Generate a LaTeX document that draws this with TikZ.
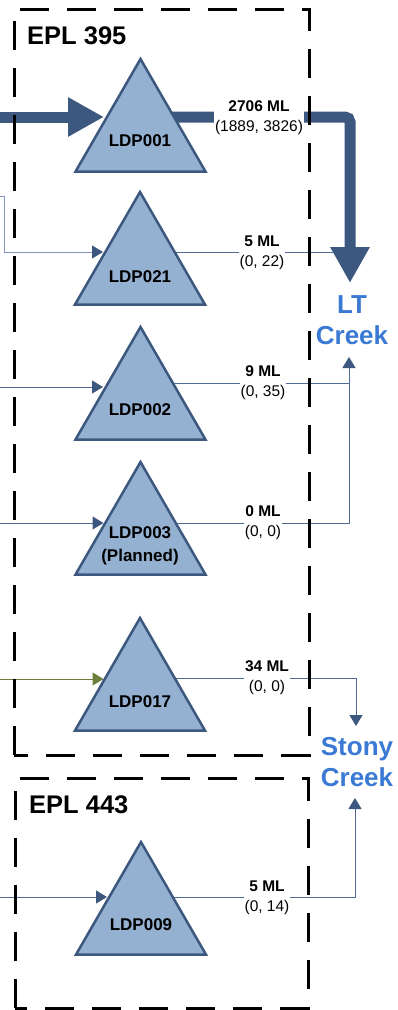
\documentclass[tikz,border=0pt]{standalone}
\usepackage{fontspec}
\setmainfont{Liberation Sans}
\usetikzlibrary{shapes.geometric,arrows.meta,backgrounds}
\definecolor{trifill}{RGB}{149,177,210}
\definecolor{tridark}{RGB}{60,88,126}
\definecolor{flowblue}{RGB}{80,108,150}
\definecolor{flowlight}{RGB}{128,152,185}
\definecolor{flowgreen}{RGB}{107,127,58}
\definecolor{creekblue}{RGB}{58,122,212}
\begin{document}
\begin{tikzpicture}[x=1pt,y=-1pt,
  tri/.style={regular polygon,regular polygon sides=3,minimum size=150pt,inner sep=0pt,fill=trifill,draw=tridark,line width=2.5pt},
  trilabel/.style={font=\fontsize{17}{23}\selectfont\bfseries,align=center,inner sep=0pt},
  flowlabel/.style={fill=white,inner sep=1pt,align=center,font=\fontsize{15.5}{20}\selectfont},
  creek/.style={text=creekblue,font=\fontsize{26}{31}\selectfont\bfseries,align=center,inner sep=0pt},
  epl/.style={font=\fontsize{25.5}{30}\selectfont\bfseries,anchor=base west,inner sep=0pt},
  eplbox/.style={draw=black,line width=3pt,dash pattern=on 29pt off 18pt},
  thickflow/.style={draw=tridark,line width=11pt},
  thinflow/.style={draw=flowblue,line width=1pt},
  bighead/.style={-{Triangle[length=36pt,width=37pt]}},
  smallhead/.style={-{Triangle[length=11pt,width=13pt,color=tridark]}},
]
\useasboundingbox (0,0) rectangle (398,1010);

% triangles
\node[tri] (t1) at (140.5,134) {};
\node[tri] (t21) at (140,267) {};
\node[tri] (t2) at (140.5,402) {};
\node[tri] (t3) at (140.5,537) {};
\node[tri] (t17) at (140,693) {};
\node[tri] (t9) at (141,917) {};

\node[trilabel] (l1) at (140,141) {LDP001};
\node[trilabel] (l21) at (140,277) {LDP021};
\node[trilabel] (l2) at (140,410) {LDP002};
\node[trilabel] (l3) at (140,546) {LDP003\\(Planned)};
\node[trilabel] (l17) at (140,702) {LDP017};
\node[trilabel] (l9) at (141,925) {LDP009};

% creeks
\node[creek] (lt) at (352,320) {LT\\Creek};
\node[creek] (stony) at (357,762) {Stony\\Creek};

% coordinates
\coordinate (i1) at (0,117);   \coordinate (t1in) at (104,117);
\coordinate (o1) at (140,117); \coordinate (c1) at (350,117); \coordinate (lttip) at (350,283);
\coordinate (i21a) at (0,196); \coordinate (i21b) at (4,196); \coordinate (i21c) at (4,252);
\coordinate (t21in) at (103,252); \coordinate (o21) at (140,252); \coordinate (e21) at (336,252);
\coordinate (i2) at (0,387); \coordinate (t2in) at (103,387);
\coordinate (o2) at (140,383); \coordinate (e2) at (349,383);
\coordinate (i3) at (0,523); \coordinate (t3in) at (103.5,523);
\coordinate (o3) at (140,523); \coordinate (c3) at (349,523); \coordinate (lttip2) at (349,357);
\coordinate (i17) at (0,679); \coordinate (t17in) at (103.5,679);
\coordinate (o17) at (140,678); \coordinate (c17) at (356,678); \coordinate (sttip) at (356,726);
\coordinate (i9) at (0,897); \coordinate (t9in) at (107,897);
\coordinate (o9) at (140,897); \coordinate (c9) at (355,897); \coordinate (sttip2) at (355,798);

\begin{pgfonlayer}{background}
  \draw[thickflow,bighead] (i1) -- (t1in);
  \draw[thinflow] (o21) -- (e21);
  \draw[thickflow,bighead,rounded corners=5pt] (o1) -- (c1) -- (lttip);
  \draw[draw=flowlight,line width=1pt,-{Triangle[length=11pt,width=13pt,color=tridark]}] (i21a) -- (i21b) -- (i21c) -- (t21in);
  \draw[thinflow,smallhead] (i2) -- (t2in);
  \draw[thinflow,smallhead] (i3) -- (t3in);
  \draw[thinflow] (o2) -- (e2);
  \draw[thinflow,smallhead] (o3) -- (c3) -- (lttip2);
  \draw[draw=flowgreen,line width=1pt,-{Triangle[length=11pt,width=13pt,color=flowgreen]}] (i17) -- (t17in);
  \draw[thinflow,smallhead] (o17) -- (c17) -- (sttip);
  \draw[thinflow,smallhead] (i9) -- (t9in);
  \draw[thinflow,smallhead] (o9) -- (c9) -- (sttip2);
\end{pgfonlayer}

% flow labels
\node[flowlabel] (f1) at (259,118) {\textbf{2706 ML}\\(1889, 3826)};
\node[flowlabel] (f21) at (262,253) {\textbf{5 ML}\\(0, 22)};
\node[flowlabel] (f2) at (263,383) {\textbf{9 ML}\\(0, 35)};
\node[flowlabel] (f3) at (263,523) {\textbf{0 ML}\\(0, 0)};
\node[flowlabel] (f17) at (267,678) {\textbf{34 ML}\\(0, 0)};
\node[flowlabel] (f9) at (267,898) {\textbf{5 ML}\\(0, 14)};

% EPL boxes
\draw[eplbox] (14,755) rectangle (309,9);
\node[epl] (e395) at (27,44) {EPL 395};
\draw[eplbox] (15,1008) rectangle (308,778);
\node[epl] (e443) at (29,813) {EPL 443};
\end{tikzpicture}
\end{document}
